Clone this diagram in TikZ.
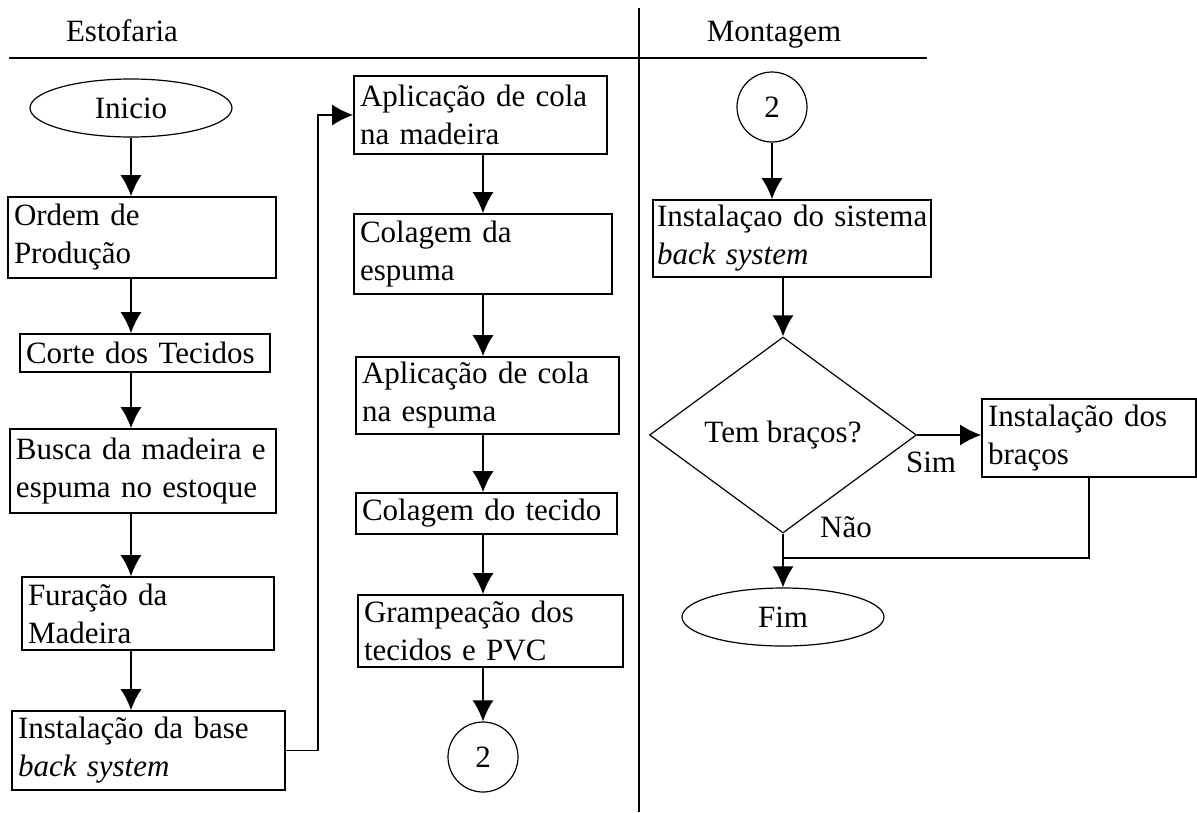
\documentclass[tikz,border=0pt]{standalone}
\usepackage{fontspec}
\setmainfont{Liberation Serif}
\usetikzlibrary{arrows.meta}
\usetikzlibrary{shapes.geometric}
\tikzset{>={Latex[length=21pt,width=21pt]}}
\newcommand{\fonte}{\fontsize{31}{38}\selectfont}
\tikzstyle{etapa}=[draw,line width=1.6pt,rectangle,align=left,inner xsep=6pt,inner ysep=0pt,font=\fonte]
\tikzstyle{terminal}=[draw,line width=1.2pt,ellipse,inner sep=0pt,minimum width=202pt,minimum height=58pt,font=\fonte]
\tikzstyle{conector}=[draw,line width=1.2pt,circle,inner sep=0pt,minimum size=70pt,font=\fonte]
\tikzstyle{decisao}=[draw,line width=1.2pt,diamond,inner sep=0pt,minimum width=267pt,minimum height=196pt,font=\fonte]
\tikzstyle{fluxo}=[->,line width=1.6pt]
\tikzstyle{rotulo}=[inner sep=0pt,anchor=base,font=\fonte]

\begin{document}
\begin{tikzpicture}[x=1pt,y=-1pt]

  \useasboundingbox (0,0) rectangle (1197,812);

  % lanes
  \draw[line width=1.6pt] (9,58) -- (927,58);
  \draw[line width=1.6pt] (639,8) -- (639,812);
  \node[rotulo] (estofaria) at (122,41) {Estofaria};
  \node[rotulo] (montagem) at (774,41) {Montagem};

  % Estofaria, first column
  \node[terminal] (inicio) at (131,108) {Inicio};
  \node[etapa,text width=256pt,minimum height=81pt] (ordem) at (142,237.5)
    {Ordem de\\Produção};
  \node[etapa,text width=238pt,minimum height=38pt] (corte) at (145,353)
    {Corte dos Tecidos};
  \node[etapa,text width=254pt,minimum height=84pt] (busca) at (143,471)
    {Busca da madeira e\\espuma no estoque};
  \node[etapa,text width=240pt,minimum height=73pt] (furacao) at (148,613.5)
    {Furação da\\Madeira};
  \node[etapa,text width=261pt,minimum height=79pt] (base) at (148.5,750.5)
    {Instalação da base\\\textit{back system}};

  \draw[fluxo] (inicio.south) -- (inicio |- ordem.north);
  \draw[fluxo] (inicio |- ordem.south) -- (inicio |- corte.north);
  \draw[fluxo] (inicio |- corte.south) -- (inicio |- busca.north);
  \draw[fluxo] (inicio |- busca.south) -- (inicio |- furacao.north);
  \draw[fluxo] (inicio |- furacao.south) -- (inicio |- base.north);

  % Estofaria, second column
  \node[etapa,text width=241pt,minimum height=78pt] (madeira) at (480.5,115)
    {Aplicação de cola\\na madeira};
  \node[etapa,text width=246pt,minimum height=80pt] (colesp) at (483,254)
    {Colagem da\\espuma};
  \node[etapa,text width=251pt,minimum height=77pt] (aplesp) at (487.5,395.5)
    {Aplicação de cola\\na espuma};
  \node[etapa,text width=249pt,minimum height=41pt] (coltec) at (486.5,513.5)
    {Colagem do tecido};
  \node[etapa,text width=253pt,minimum height=72pt] (grampo) at (490.5,631)
    {Grampeação dos\\tecidos e PVC};
  \node[conector] (doisa) at (483,757) {2};

  \draw[fluxo] (base.east) -- ++(32,0) |- (madeira.west);
  \draw[fluxo] (doisa |- madeira.south) -- (doisa |- colesp.north);
  \draw[fluxo] (doisa |- colesp.south) -- (doisa |- aplesp.north);
  \draw[fluxo] (doisa |- aplesp.south) -- (doisa |- coltec.north);
  \draw[fluxo] (doisa |- coltec.south) -- (doisa |- grampo.north);
  \draw[fluxo] (doisa |- grampo.south) -- (doisa.north);

  % Montagem
  \node[conector] (doisb) at (772,107) {2};
  \node[etapa,inner xsep=4pt,text width=270pt,minimum height=77pt] (sistema) at (792,238.5)
    {\mbox{Instalaçao do sistema}\\\textit{back system}};
  \node[decisao] (bracos) at (783,435) {Tem braços?};
  \node[etapa,text width=202pt,minimum height=78pt] (instbracos) at (1089,438)
    {Instalação dos\\braços};
  \node[terminal] (fim) at (783,617) {Fim};
  \coordinate (junta) at (783,558);
  \node[rotulo] (sim) at (931,472) {Sim};
  \node[rotulo] (nao) at (846,537) {Não};

  \draw[fluxo] (doisb.south) -- (doisb |- sistema.north);
  \draw[fluxo] (bracos |- sistema.south) -- (bracos.north);
  \draw[fluxo] (bracos.east) -- (bracos.east -| instbracos.west);
  \draw[fluxo] (bracos.south) -- (fim.north);
  \draw[line width=1.6pt] (instbracos.south) |- (junta);

\end{tikzpicture}
\end{document}
